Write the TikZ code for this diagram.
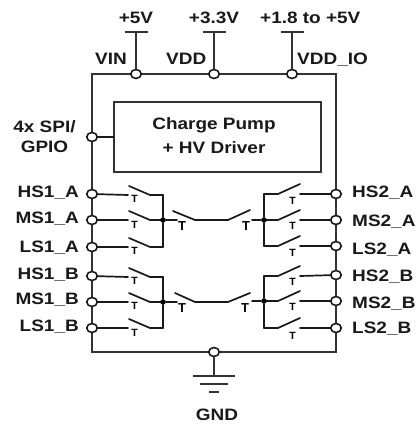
\documentclass[tikz,border=0pt]{standalone}
\usepackage{graphicx}
\usepackage{fontspec}
\setmainfont{Liberation Sans}
\usetikzlibrary{shapes.geometric}
\newcommand{\wdr}[1]{\scalebox{1.15}[1]{#1}}
\tikzset{
  wire/.style={line width=1.7pt,line cap=round,line join=round,draw=black!90},
  thin wire/.style={line width=1.4pt,draw=black!80},
  pin/.style={ellipse,draw=black!90,line width=1.6pt,fill=white,minimum width=10.5pt,minimum height=9pt,inner sep=0pt},
  lab/.style={font=\fontsize{16.5}{18}\selectfont\bfseries,inner sep=0pt,text=black!90},
  gate/.style={font=\fontsize{10.5}{11}\selectfont\bfseries,inner sep=0pt},
  biggate/.style={font=\fontsize{13}{14}\selectfont\bfseries,inner sep=0pt},
  dot/.style={circle,fill=black,minimum size=5.5pt,inner sep=0pt}
}
\newcommand{\swl}[4]{% name, pin, bus y, gate y offset: left-bank switch
  \coordinate (#1o) at (128,#3);
  \coordinate (#1b) at (150,#3);
  \draw[wire] (#2) -- (#1o);
  \draw[wire] (129,#3-9) -- (#1b) -- (163,#3);
  \node[gate] (#1t) at (134.5,#3+#4) {T};
}
\newcommand{\swr}[4]{% name, pin, bus y, gate y offset: right-bank switch
  \coordinate (#1o) at (300,#3);
  \coordinate (#1b) at (278,#3);
  \draw[wire] (#2) -- (#1o);
  \draw[wire] (300,#3-10) -- (#1b) -- (264,#3);
  \node[gate] (#1t) at (292.5,#3+#4) {T};
}
\begin{document}
\begin{tikzpicture}[x=1pt,y=-1pt]
\useasboundingbox[fill=white] (0,0) rectangle (420,426);
% package outline
\coordinate (tl) at (92,74); \coordinate (tr) at (336,74);
\coordinate (bl) at (92,352); \coordinate (br) at (336,352);
\draw[thin wire] (tl) -- (tr) -- (br) -- (bl) -- cycle;
% driver
\node[draw=black!80,line width=1.4pt,minimum width=207pt,minimum height=70pt,inner sep=0pt] (drv) at (217.5,137) {};
\node[lab] (drv1) at (214,125.5) {\wdr{Charge Pump}};
\node[lab] (drv2) at (214,147.5) {\wdr{+ HV Driver}};
% supplies
\foreach \n/\x/\t in {a/136/+5V,b/214/+3.3V}{
  \node[pin] (p\n) at (\x,74) {};
  \coordinate (s\n) at (\x,32);
  \draw[thin wire] (s\n) -- (p\n);
  \draw[thin wire] (\x-11.5,32) -- (\x+11.5,32);
  \node[lab,anchor=base] (t\n) at (\x,23) {\wdr{\t}};
}
\node[pin] (pc) at (292,74) {};
\coordinate (sc) at (292,32);
\draw[thin wire] (sc) -- (pc);
\draw[thin wire] (280.5,32) -- (303.5,32);
\node[lab,anchor=base west] (tc) at (260,23) {\wdr{+1.8 to +5V}};
\node[lab,anchor=base west] (vin) at (95,64) {\wdr{VIN}};
\node[lab,anchor=base west] (vdd) at (166,64) {\wdr{VDD}};
\node[lab,anchor=base west] (vio) at (297,64) {\wdr{VDD\_IO}};
% SPI
\node[pin] (spi) at (92,137) {};
\draw[wire] (spi) -- (drv.west |- spi);
\node[lab,anchor=base] (ts) at (44.5,132) {\wdr{4x SPI/}};
\node[lab,anchor=base] (tg) at (44.5,152) {\wdr{GPIO}};
% pin labels
\foreach \n/\y/\t in {ha/197/HS1\_A,ma/223/MS1\_A,la/252/LS1\_A,hb/279/HS1\_B,mb/304/MS1\_B,lb/331/LS1\_B}{
  \node[lab,anchor=base east] (t\n) at (79,\y) {\wdr{\t}};
}
\foreach \n/\y/\t in {rha/197/HS2\_A,rma/226/MS2\_A,rla/254/LS2\_A,rhb/281/HS2\_B,rmb/308/MS2\_B,rlb/333/LS2\_B}{
  \node[lab,anchor=base west] (t\n) at (352,\y) {\wdr{\t}};
}
% upper bank
\node[pin] (ha) at (92,194) {}; \node[pin] (ma) at (92,220) {}; \node[pin] (la) at (92,247) {};
\node[pin] (rha) at (336,194) {}; \node[pin] (rma) at (336,220) {}; \node[pin] (rla) at (336,246) {};
\swl{s1}{ha}{195}{4}
\swl{s2}{ma}{220}{5}
\swl{s3}{la}{247}{4}
\swr{s4}{rha}{194}{7}
\swr{s5}{rma}{220}{6}
\swr{s6}{rla}{246}{7}
\node[dot] (ja) at (163,220) {};
\node[dot] (jb) at (264,220) {};
\draw[wire] (163,195) -- (ja) -- (163,247);
\draw[wire] (264,194) -- (jb) -- (264,246);
\draw[wire] (ja) -- (177,220);
\draw[wire] (173,211) -- (195,220) -- (228,220) -- (250,210);
\draw[wire] (252,220) -- (jb);
\node[biggate] (c1) at (182,226) {T};
\node[biggate] (c2) at (246,226) {T};
% lower bank
\node[pin] (hb) at (92,276) {}; \node[pin] (mb) at (92,302) {}; \node[pin] (lb) at (92,328) {};
\node[pin] (rhb) at (336,275) {}; \node[pin] (rmb) at (336,301) {}; \node[pin] (rlb) at (336,328) {};
\swl{s7}{hb}{277}{4}
\swl{s8}{mb}{302}{4}
\swl{s9}{lb}{328}{5}
\swr{s10}{rhb}{276}{6}
\swr{s11}{rmb}{301}{6}
\swr{s12}{rlb}{328}{8}
\node[dot] (jc) at (163,302) {};
\node[dot] (jd) at (264,301) {};
\draw[wire] (163,277) -- (jc) -- (163,328);
\draw[wire] (264,276) -- (jd) -- (264,328);
\draw[wire] (jc) -- (177,302);
\draw[wire] (175,293) -- (195,302) -- (228,302) -- (250,293);
\draw[wire] (252,301) -- (jd);
\node[biggate] (c3) at (182,308) {T};
\node[biggate] (c4) at (245,308) {T};
% ground
\node[pin] (gp) at (214,352) {};
\coordinate (g1) at (214,376);
\draw[thin wire] (gp) -- (g1);
\draw[thin wire] (193,376) -- (235,376);
\draw[thin wire] (200,384) -- (228,384);
\draw[thin wire] (209,392) -- (219,392);
\node[lab,anchor=base] (gnd) at (217,420) {\wdr{GND}};
\end{tikzpicture}
\end{document}
